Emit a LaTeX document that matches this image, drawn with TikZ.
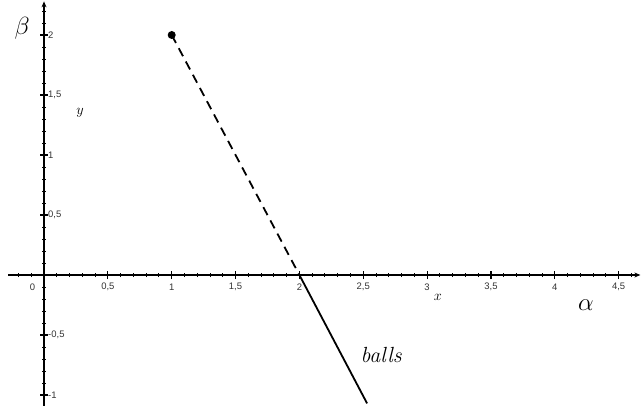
\documentclass[tikz,border=0pt]{standalone}
\usepackage{fontspec}
\newfontfamily\ticksf{Liberation Sans}
\usetikzlibrary{arrows.meta}
\begin{document}
\begin{tikzpicture}[x=127.7bp,y=120bp,
  ticklab/.style={font=\ticksf\fontsize{9.5}{11}\selectfont, inner sep=0pt, text=black!80},
  axis/.style={line width=1.3bp, -{Stealth[length=6bp,width=5bp]}},
  minortick/.style={line width=0.9bp},
  majortick/.style={line width=1.1bp},
  biglab/.style={font=\fontsize{26}{28}\selectfont, inner sep=0pt},
  smalllab/.style={font=\fontsize{15}{17}\selectfont\itshape, inner sep=0pt}]
\useasboundingbox (-0.3446,-1.1083) rectangle (4.675,2.2917);
\coordinate (xs) at (-0.28,0);
\coordinate (xe) at (4.67,0);
\coordinate (ys) at (0,-1.09);
\coordinate (ye) at (0,2.28);
\draw[axis] (xs) -- (xe);
\draw[axis] (ys) -- (ye);
% minor ticks
\foreach \i in {-2,...,46} \draw[minortick] (\i/10,0) ++(0,-2bp) -- ++(0,4bp);
\foreach \i in {-10,...,22} \draw[minortick] (0,\i/10) ++(-2bp,0) -- ++(4bp,0);
% major ticks
\foreach \i in {1,...,9} \draw[majortick] (\i/2,0) ++(0,-4bp) -- ++(0,8bp);
\foreach \i in {-2,...,4} \draw[majortick] (0,\i/2) ++(-4bp,0) -- ++(8bp,0);
% x tick labels
\node[ticklab] (t0) at (-0.09,-0.1) {0};
\foreach \v/\t in {0.5/{0,5},1/1,1.5/{1,5},2/2,2.5/{2,5},3/3,3.5/{3,5},4/4,4.5/{4,5}}
  \node[ticklab] (tx\v) at ([yshift=-12bp]\v,0) {\t};
% y tick labels
\foreach \v/\t/\n in {2/2/a,1.5/{1,5}/b,1/1/c,0.5/{0,5}/d,-0.5/{-0,5}/e,-1/{-1}/f}
  \node[ticklab, anchor=west] (ty\n) at ([xshift=4bp]0,\v) {\t};
% curve
\node[circle, fill, inner sep=0pt, minimum size=8bp] (p) at (1,2) {};
\coordinate (q) at (2,0);
\coordinate (r) at (2.53,-1.07);
\draw[line width=1.8bp, dash pattern=on 9bp off 6bp] (p.center) -- (q);
\draw[line width=1.8bp] (q) -- (r);
% labels
\node[biglab] (beta) at (-0.172,2.058) {$\beta$};
\node[biglab] (alpha) at (4.244,-0.25) {$\alpha$};
\node[font=\fontsize{22}{24}\selectfont\itshape, inner sep=0pt] (balls) at (2.64,-0.667) {balls};
\node[smalllab] (xl) at (3.085,-0.19) {$x$};
\node[smalllab] (yl) at (0.282,1.35) {$y$};
\end{tikzpicture}
\end{document}
